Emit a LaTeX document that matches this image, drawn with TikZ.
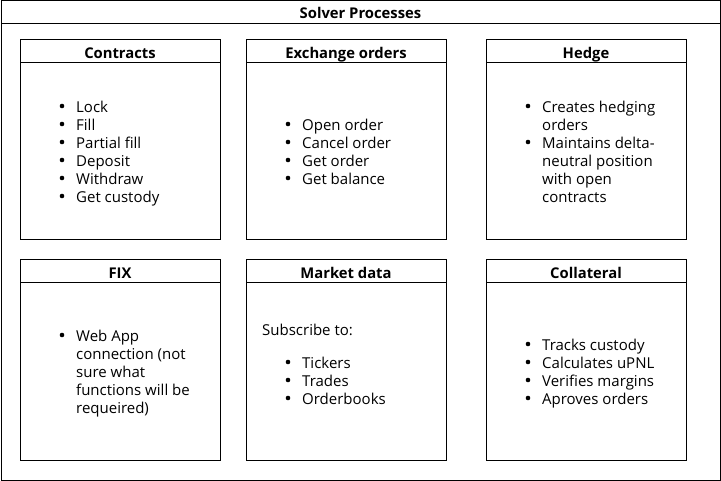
\documentclass[tikz,border=0pt]{standalone}
\usepackage{fontspec}
\setmainfont{Open Sans}
\begin{document}
\begin{tikzpicture}[x=1pt,y=-1pt,
  frame/.style={draw=black,line width=1pt},
  ttl/.style={font=\fontsize{14.8}{17}\selectfont\bfseries,inner sep=0pt,anchor=base},
  txt/.style={font=\fontsize{15}{18}\selectfont,inner sep=0pt,anchor=base west},
  dot/.style={circle,fill=black,inner sep=0pt,minimum size=4.6pt}]
\useasboundingbox (0,0) rectangle (721,481);
% outer container
\draw[frame] (1,1) rectangle (720,480);
\draw[frame] (1,24) -- (720,24);
\node[ttl] (title) at (360.5,18.5) {Solver Processes};
% boxes
\foreach \x/\y/\nm/\lab in {20/40/bc/Contracts, 246/40/be/Exchange orders, 486/40/bh/Hedge,
                             20/260/bf/FIX, 246/260/bm/Market data, 486/260/bco/Collateral}{
  \draw[frame] (\x,\y) rectangle ++(200,200);
  \draw[frame] (\x,\y+23) -- ++(200,0);
  \node[ttl] (\nm) at (\x+100,\y+18.5) {\lab};
}
% Contracts
\foreach \t [count=\i] in {Lock,Fill,Partial fill,Deposit,Withdraw,Get custody}{
  \node[dot] (cb\i) at (62,88+18*\i) {};
  \node[txt] (ct\i) at (76,94.3+18*\i) {\t};
}
% Exchange orders
\foreach \t [count=\i] in {Open order,Cancel order,Get order,Get balance}{
  \node[dot] (eb\i) at (288,106+18*\i) {};
  \node[txt] (et\i) at (302,112.3+18*\i) {\t};
}
% Hedge
\node[dot] (hb1) at (528,106) {};
\node[txt] (ht1) at (542,112.3) {Creates hedging};
\node[txt] (ht2) at (542,130.3) {orders};
\node[dot] (hb2) at (528,142) {};
\node[txt] (ht3) at (542,148.3) {Maintains delta-};
\node[txt] (ht4) at (542,166.3) {neutral position};
\node[txt] (ht5) at (542,184.3) {with open};
\node[txt] (ht6) at (542,202.3) {contracts};
% FIX
\node[dot] (fb1) at (62,335) {};
\node[txt] (ft1) at (76,341.3) {Web App};
\node[txt] (ft2) at (76,359.3) {connection (not};
\node[txt] (ft3) at (76,377.3) {sure what};
\node[txt] (ft4) at (76,395.3) {functions will be};
\node[txt] (ft5) at (76,413.3) {requeired)};
% Market data
\node[txt] (ms) at (262,335.3) {Subscribe to:};
\foreach \t [count=\i] in {Tickers,Trades,Orderbooks}{
  \node[dot] (mb\i) at (288,344+18*\i) {};
  \node[txt] (mt\i) at (302,350.3+18*\i) {\t};
}
% Collateral
\foreach \t [count=\i] in {Tracks custody,Calculates uPNL,Verifies margins,Aproves orders}{
  \node[dot] (kb\i) at (528,326+18*\i) {};
  \node[txt] (kt\i) at (542,332.3+18*\i) {\t};
}
\end{tikzpicture}
\end{document}
